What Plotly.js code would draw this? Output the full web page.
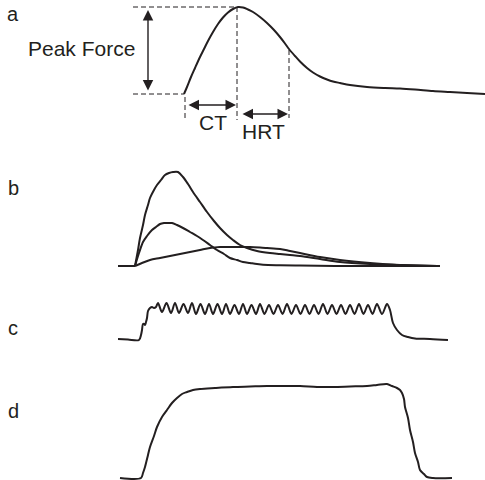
<!DOCTYPE html>
<html>
<head>
<meta charset="utf-8">
<script src="https://cdn.plot.ly/plotly-3.0.1.min.js"></script>
<style>html,body{margin:0;padding:0;background:#fff;}#chart{width:485px;height:480px;}</style>
</head>
<body>
<div id="chart"></div>
<script>
// Panel a: single twitch (time, force above baseline)
const aTime  = [184,187,191,195,200,204,208,213,218,223,228,233,238,243,248,253,260,267,274,280,285,289,295,300,307,313,320,327,333,340,350,367,385,400,415,433,450,467,485];
const aForce = [0,7,17,26,37,45,53,62,70,76.5,81.5,85,87,86.5,84.5,82,77,71,64,57,50.5,45,38,32.5,26,21.5,17.5,14.5,12.5,11,9,7,6,5.5,4.5,3,2,1,0];

// Panel b: three twitches
const bBaseTime  = [118,135];
const bBaseForce = [0,0];
const b1Time  = [135,138,140,143,145,148,150,154,157,161,165,169,173,178,183,188,193,200,207,214,220,227,233,240,247,257,270,280,290,300,320,340,370,400,437];
const b1Force = [0,16,28,41,51,61,68,76,81,86,91,93,94,94,89,82,74,64,54,45,38,31,26,21,18,15,13,12,11,10,7,4,2,1,0];
const b2Time  = [135,139,143,147,152,156,160,164,168,172,177,183,190,197,203,210,217,224,230,237,243,250,257,268,280,300,340,440];
const b2Force = [0,13,24,30,36,39,42,43,43,43,41,38,34,30,26,21,16,12,8,6,4,3,2,1,0.8,0.5,0,0];
const b3Time  = [135,142,150,160,170,180,190,200,210,220,230,240,250,260,267,280,290,300,320,340,370,400,437,440];
const b3Force = [0,3,6,8,10,12,14,16,18,19,19,19,19,18.5,18,17,15,13,9,6,3,1,0,0];

// Panel c: unfused tetanus
const cTime  = [118,128,139,141,142,143,144,145,146,147,148,150,152,154,156,
  158,162,166.5,171,175,179,183.5,188,192,196,200.5,205,209,213,217.5,222,226,230,234.5,239,243,247,251.5,256,260,264.5,269,273.5,278,282.5,287,291.5,296,300.5,305,309.5,314,318.5,323,327.5,332,336.5,341,345.5,350,354.5,359,363.5,368,372.5,377,382,387,
  390,393,397,402,408,415,430,448];
const cForce = [0,-0.5,-1,4,9,15,15,14,17,21,28,31,32,31,32,
  36,27,36,26,36,26,35,26,36,25,35,25,35,25,35,25,35,25,34,25,35,25,34,25,35,25,34,25,34,25,35,25,34,25,34,25,34,25,35,25,34,25,34,25,34,25,35,25,34,25,35,25,35,
  29,16,9,4,2,0.5,0,-1];

// Panel d: fused tetanus
const dTime  = [120,141,143,145,148,150,154,157,162,167,172,177,182,187,193,200,215,233,250,267,283,300,317,333,350,367,377,387,392,397,400,402,404,405,408,410,413,415,418,420,424,427,433,452];
const dForce = [0,0,5,11,23,31,42,51,61,68,75,80,84,86,88,89,90,91,91.5,92,92,92,91,91,91.5,92,93,94,92,90,88,85,79,71,60,48,36,25,16,8,4,1,0,0];

const ink = '#231f20';
const fontFam = '"Liberation Sans", Arial, Helvetica, sans-serif';

function trace(x, y, yax) {
  return {x: x, y: y, xaxis: 'x', yaxis: yax, type: 'scatter', mode: 'lines',
    line: {color: ink, width: 2, shape: 'spline', smoothing: 0.9}, hoverinfo: 'skip', showlegend: false};
}

const data = [
  trace(aTime, aForce, 'y'),
  trace(bBaseTime, bBaseForce, 'y2'),
  trace(b1Time, b1Force, 'y2'),
  trace(b2Time, b2Force, 'y2'),
  trace(b3Time, b3Force, 'y2'),
  trace(cTime, cForce, 'y3'),
  trace(dTime, dForce, 'y4')
];

const H = 480;
function dom(pyBottom, pyTop) { return [1 - pyBottom / H, 1 - pyTop / H]; }
const hidden = {visible: false, fixedrange: true};

const dash = {color: ink, width: 1, dash: '5px,3px'};
const shapes = [
  {type: 'line', xref: 'x', yref: 'y', x0: 133, x1: 184, y0: 0, y1: 0, line: dash},
  {type: 'line', xref: 'x', yref: 'y', x0: 133, x1: 237, y0: 87, y1: 87, line: dash},
  {type: 'line', xref: 'x', yref: 'y', x0: 185, x1: 185, y0: -3, y1: -24, line: dash},
  {type: 'line', xref: 'x', yref: 'y', x0: 237, x1: 237, y0: 87, y1: -26, line: dash},
  {type: 'line', xref: 'x', yref: 'y', x0: 289, x1: 289, y0: 44, y1: -24, line: dash}
];

function arrow(x0, y0, x1, y1) {
  return {xref: 'x', yref: 'y', axref: 'x', ayref: 'y', x: x1, y: y1, ax: x0, ay: y0,
    text: '', showarrow: true, arrowside: 'end+start', arrowhead: 2, startarrowhead: 2,
    arrowsize: 1.5, startarrowsize: 1.5, arrowwidth: 1.4, arrowcolor: ink};
}
function label(txt, x, y, yref, size) {
  return {xref: 'x', yref: yref, x: x, y: y, text: txt, showarrow: false,
    xanchor: 'center', yanchor: 'middle', font: {family: fontFam, size: size, color: ink}};
}

const annotations = [
  arrow(148, 2, 148, 84),
  arrow(187, -11, 236, -11),
  arrow(241, -20, 288, -20),
  label('Peak Force', 81, 46, 'y', 21),
  label('CT', 213, -28, 'y', 21),
  label('HRT', 263, -37, 'y', 21),
  label('a', 13, 80, 'y', 20),
  label('b', 13, 78, 'y2', 20),
  label('c', 13, 11, 'y3', 20),
  label('d', 13, 67, 'y4', 20)
];

const layout = {
  width: 485, height: 480,
  margin: {l: 0, r: 0, t: 0, b: 0, pad: 0},
  paper_bgcolor: '#ffffff', plot_bgcolor: 'rgba(0,0,0,0)',
  xaxis: Object.assign({range: [0, 485], domain: [0, 1]}, hidden),
  yaxis: Object.assign({range: [94 - 140, 94], domain: dom(140, 0), anchor: 'x'}, hidden),
  yaxis2: Object.assign({range: [266 - 290, 266 - 150], domain: dom(290, 150), anchor: 'x'}, hidden),
  yaxis3: Object.assign({range: [339 - 355, 339 - 290], domain: dom(355, 290), anchor: 'x'}, hidden),
  yaxis4: Object.assign({range: [478 - 480, 478 - 370], domain: dom(480, 370), anchor: 'x'}, hidden),
  shapes: shapes,
  annotations: annotations,
  showlegend: false
};

Plotly.newPlot('chart', data, layout, {staticPlot: true, displayModeBar: false});
</script>
</body>
</html>
